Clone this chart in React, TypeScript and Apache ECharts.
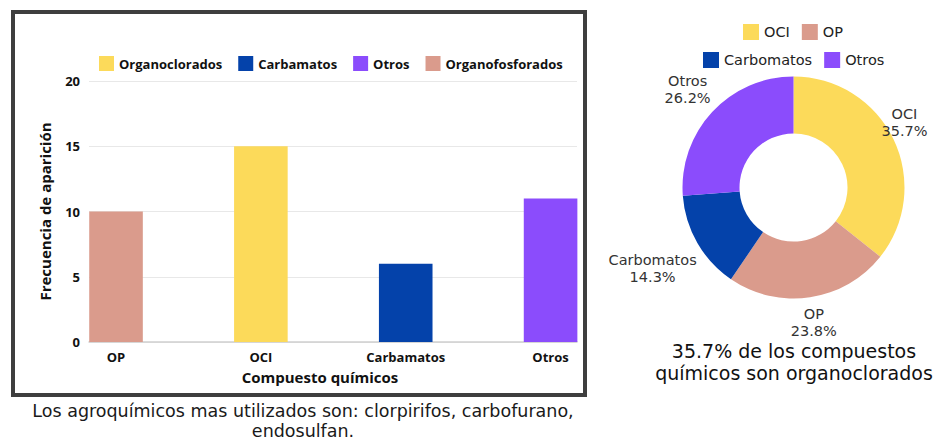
import React, { useEffect, useRef } from "react";
import * as echarts from "echarts";

// ---- data ----
const categories = ["OP", "OCI", "Carbamatos", "Otros"];
const frequencies = [10, 15, 6, 11];
const barSeriesNames = ["Organofosforados", "Organoclorados", "Carbamatos", "Otros"];
const barColors = ["#DA9B8C", "#FCDA5A", "#0442AA", "#8B4CFC"];
const barLegendOrder = ["Organoclorados", "Carbamatos", "Otros", "Organofosforados"];
const yMin = 0;
const yMax = 20;
const yInterval = 5;

const pieNames = ["OCI", "OP", "Carbomatos", "Otros"];
const pieValues = [15, 10, 6, 11];
const pieColors = ["#FCDA5A", "#DA9B8C", "#0442AA", "#8B4CFC"];
const pieLegendRow1 = ["OCI", "OP"];
const pieLegendRow2 = ["Carbomatos", "Otros"];

const barCaption = "Los agroquímicos mas utilizados son: clorpirifos, carbofurano,\nendosulfan.";
const yAxisName = "Frecuencia de aparición";
const xAxisName = "Compuesto químicos";

const FONT = "'Open Sans', sans-serif";
const FONT2 = "'DejaVu Sans', sans-serif";

export default function App() {
  const ref = useRef<HTMLDivElement>(null);

  useEffect(() => {
    if (!ref.current) return;
    const chart = echarts.init(ref.current, undefined, { renderer: "svg" });

    const total = pieValues.reduce((a, b) => a + b, 0);
    const pieCx = 793.5;
    const pieCy = 187.5;
    const rIn = 54;
    const rOut = 111;
    const ociPct = ((pieValues[0] / total) * 100).toFixed(1);
    const pieCaption = `${ociPct}% de los compuestos\nquímicos son organoclorados`;

    const barSeries = categories.map((_, i) => ({
      name: barSeriesNames[i],
      type: "bar",
      xAxisIndex: 1,
      yAxisIndex: 1,
      stack: "all",
      barWidth: "37%",
      itemStyle: { color: barColors[i] },
      data: categories.map((__, j) => (j === i ? frequencies[j] : "-")),
    }));

    const option: any = {
      animation: false,
      backgroundColor: "#ffffff",
      textStyle: { fontFamily: FONT },
      grid: [
        { left: 89, top: 81, width: 488, height: 261 },
        { left: 43.6, top: 81, width: 579.4, height: 261 },
      ],
      legend: [
        {
          data: barLegendOrder,
          left: 99,
          top: 56,
          padding: 0,
          icon: "rect",
          itemWidth: 15,
          itemHeight: 15,
          itemGap: 16,
          textStyle: { fontFamily: FONT, fontWeight: "bold", fontSize: 13, color: "#111" },
        },
        {
          data: pieLegendRow1,
          left: 743,
          top: 24,
          padding: 0,
          icon: "rect",
          itemWidth: 16,
          itemHeight: 16,
          itemGap: 12,
          textStyle: { fontFamily: FONT2, fontSize: 14.5, color: "#222" },
        },
        {
          data: pieLegendRow2,
          left: 703,
          top: 52,
          padding: 0,
          icon: "rect",
          itemWidth: 16,
          itemHeight: 16,
          itemGap: 12,
          textStyle: { fontFamily: FONT2, fontSize: 14.5, color: "#222" },
        },
      ],
      xAxis: [
        {
          gridIndex: 0,
          type: "value",
          min: 0,
          max: 1,
          axisLine: { show: true, lineStyle: { color: "#cfcfcf", width: 1.5 } },
          axisTick: { show: false },
          axisLabel: { show: false },
          splitLine: { show: false },
        },
        {
          gridIndex: 1,
          type: "category",
          data: categories,
          axisLine: { show: false },
          axisTick: { show: false },
          axisLabel: {
            margin: 8,
            fontFamily: FONT,
            fontWeight: "bold",
            fontSize: 13,
            color: "#111",
          },
        },
      ],
      yAxis: [
        {
          gridIndex: 0,
          type: "value",
          min: yMin,
          max: yMax,
          interval: yInterval,
          axisLine: { show: false },
          axisTick: { show: false },
          axisLabel: {
            margin: 9,
            fontFamily: FONT,
            fontWeight: "bold",
            fontSize: 13,
            color: "#111",
          },
          splitLine: { lineStyle: { color: "#e8e8e8", width: 1 } },
          name: yAxisName,
          nameLocation: "middle",
          nameGap: 37,
          nameTextStyle: { fontFamily: FONT, fontWeight: "bold", fontSize: 15, color: "#111" },
        },
        {
          gridIndex: 1,
          type: "value",
          min: yMin,
          max: yMax,
          interval: yInterval,
          show: false,
          splitLine: { show: false },
        },
      ],
      series: [
        ...barSeries,
        {
          type: "pie",
          center: [pieCx, pieCy],
          radius: [rIn, rOut],
          startAngle: 90,
          clockwise: true,
          percentPrecision: 1,
          itemStyle: { borderWidth: 0 },
          label: {
            show: true,
            position: "outside",
            formatter: "{b}\n{d}%",
            fontFamily: FONT2,
            fontSize: 14.5,
            lineHeight: 17,
            color: "#333",
            overflow: "none",
          },
          labelLine: { show: false },
          labelLayout: (params: any) => {
            const i = params.dataIndex;
            let cum = 0;
            for (let k = 0; k < i; k++) cum += pieValues[k];
            const mid = ((cum + pieValues[i] / 2) / total) * Math.PI * 2;
            const a = Math.PI / 2 - mid;
            const w = params.labelRect.width;
            const h = params.labelRect.height;
            const R = rOut + 5 + Math.abs(Math.cos(a)) * w / 2 + Math.abs(Math.sin(a)) * h / 2;
            const maxX = chart.getWidth() - w / 2 - 2;
            return {
              x: Math.min(pieCx + R * Math.cos(a), maxX),
              y: pieCy - R * Math.sin(a),
              align: "center",
              verticalAlign: "middle",
            };
          },
          data: pieNames.map((n, i) => ({
            name: n,
            value: pieValues[i],
            itemStyle: { color: pieColors[i] },
          })),
        },
      ],
      graphic: [
        {
          type: "rect",
          shape: { x: 13, y: 12, width: 572, height: 383 },
          style: { fill: "none", stroke: "#3e3e3e", lineWidth: 4 },
          silent: true,
        },
        {
          type: "text",
          x: 320,
          y: 377,
          style: {
            text: xAxisName,
            fontFamily: FONT,
            fontWeight: "bold",
            fontSize: 15,
            fill: "#111",
            align: "center",
            verticalAlign: "middle",
          },
        },
        {
          type: "text",
          x: 303,
          y: 421,
          style: {
            text: barCaption,
            fontFamily: FONT2,
            fontSize: 17.5,
            lineHeight: 20,
            fill: "#1a1a1a",
            align: "center",
            verticalAlign: "middle",
          },
        },
        {
          type: "text",
          x: 794,
          y: 362,
          style: {
            text: pieCaption,
            fontFamily: FONT2,
            fontSize: 19,
            lineHeight: 22,
            fill: "#111",
            align: "center",
            verticalAlign: "middle",
          },
        },
      ],
    };

    chart.setOption(option);
    return () => chart.dispose();
  }, []);

  return (
    <div
      ref={ref}
      style={{ position: "fixed", left: 0, top: 0, width: 937, height: 442, background: "#fff" }}
    />
  );
}
